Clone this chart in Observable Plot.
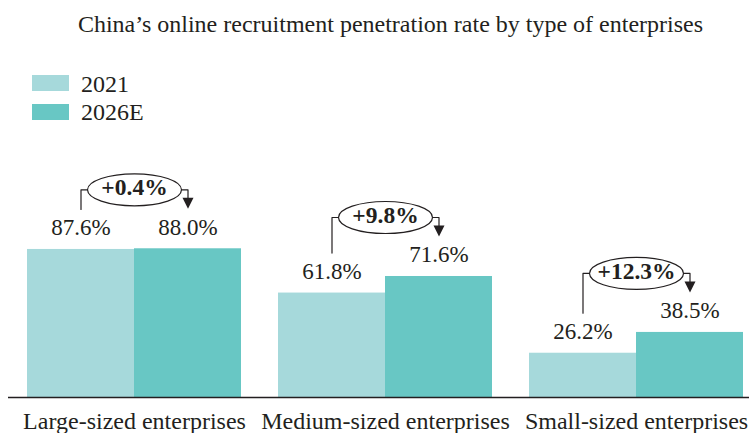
<!DOCTYPE html>
<html><head><meta charset="utf-8">
<script src="https://cdn.jsdelivr.net/npm/d3@7"></script>
<script src="https://cdn.jsdelivr.net/npm/@observablehq/plot@0.6"></script>
<style>
body{margin:0;background:#fff;font-family:"Liberation Serif","Times New Roman",serif;color:#231f20;}
#header{position:relative;height:135px;width:749px;}
#title{position:absolute;left:32px;right:0;top:12px;text-align:center;font-size:24px;line-height:24px;white-space:nowrap;}
.sw{position:absolute;left:32px;width:37px;height:16px;}
.lab{position:absolute;left:81px;font-size:24px;line-height:24px;white-space:nowrap;}
#chart svg{display:block;}
#chart svg, #chart svg text{font-family:"Liberation Serif","Times New Roman",serif !important;}
</style></head><body>
<div id="header">
  <div id="title">China’s online recruitment penetration rate by type of enterprises</div>
</div>
<div id="chart"></div>
<script>
const categories = ["Large-sized enterprises", "Medium-sized enterprises", "Small-sized enterprises"];
const series = ["2021", "2026E"];
const values2021 = [87.6, 61.8, 26.2];
const values2026E = [88.0, 71.6, 38.5];
const changes = ["+0.4%", "+9.8%", "+12.3%"];
const colors = ["#a6d9db", "#68c7c4"];

// legend (HTML, above the SVG)
const header = document.getElementById("header");
series.forEach((s, j) => {
  const sw = document.createElement("div");
  sw.className = "sw"; sw.style.top = (75 + 29 * j) + "px"; sw.style.background = colors[j];
  header.appendChild(sw);
  const lb = document.createElement("div");
  lb.className = "lab"; lb.style.top = (72 + 28 * j) + "px"; lb.textContent = s;
  header.appendChild(lb);
});

const rows = categories.map((c, i) => ({cat: c, i, v21: values2021[i], v26: values2026E[i], diff: changes[i]}));
const bars = [];
rows.forEach(r => {
  bars.push({i: r.i, s: 0, series: series[0], value: r.v21});
  bars.push({i: r.i, s: 1, series: series[1], value: r.v26});
});

const H = 107 / 251;     // half group width in x units
const K = 1.69;          // px per y unit
const XU = 251;          // px per x unit
const RX = 47, RY = 16;
const ell = r => Math.max(r.v21, r.v26) + 59 / K;

const paths = [];
rows.forEach(r => {
  const E = ell(r);
  paths.push({k: r.i + "L", x: r.i - H / 2, y: r.v21 + 40 / K});
  paths.push({k: r.i + "L", x: r.i - H / 2, y: E});
  paths.push({k: r.i + "L", x: r.i - RX / XU, y: E});
  paths.push({k: r.i + "R", x: r.i + RX / XU, y: E});
  paths.push({k: r.i + "R", x: r.i + H / 2, y: E});
  paths.push({k: r.i + "R", x: r.i + H / 2, y: r.v26 + 50 / K});
});

const ellipseSymbol = {draw(ctx) {
  const a = RX, b = RY, k = 0.5523;
  ctx.moveTo(a, 0);
  ctx.bezierCurveTo(a, b * k, a * k, b, 0, b);
  ctx.bezierCurveTo(-a * k, b, -a, b * k, -a, 0);
  ctx.bezierCurveTo(-a, -b * k, -a * k, -b, 0, -b);
  ctx.bezierCurveTo(a * k, -b, a, -b * k, a, 0);
  ctx.closePath();
}};
const arrowSymbol = {draw(ctx) {
  ctx.moveTo(0, 0); ctx.lineTo(-5.5, -11); ctx.lineTo(5.5, -11); ctx.closePath();
}};

const ink = "#231f20";
const serif = "'Liberation Serif', 'Times New Roman', serif";
const plot = Plot.plot({
  width: 749, height: 298,
  marginTop: 0, marginBottom: 0, marginLeft: 0, marginRight: 0,
  style: {fontFamily: serif, background: "#fff", color: ink},
  x: {domain: [0, 2], range: [134, 636], axis: null},
  y: {domain: [0, 100], range: [262, 93], axis: null},
  color: {domain: series, range: colors},
  marks: [
    Plot.rectY(bars, {x1: d => d.i - (d.s === 0 ? H : 0), x2: d => d.i + (d.s === 0 ? 0 : H), y: "value", fill: "series"}),
    Plot.ruleY([0], {insetLeft: 8, stroke: ink, strokeWidth: 1.3}),
    Plot.text(bars, {x: d => d.i + (d.s === 0 ? -H / 2 : H / 2), y: "value", text: d => d.value.toFixed(1) + "%", dy: -21.5, fontSize: 23, fontFamily: serif, fill: ink}),
    Plot.text(rows, {x: "i", y: () => 0, text: "cat", dy: 24.3, fontSize: 24, fontFamily: serif, fill: ink}),
    Plot.line(paths, {x: "x", y: "y", z: "k", stroke: ink, strokeWidth: 1.2, curve: "linear"}),
    Plot.dot(rows, {x: d => d.i + H / 2, y: d => d.v26 + 40 / K, symbol: arrowSymbol, fill: ink, stroke: "none"}),
    Plot.dot(rows, {x: "i", y: ell, symbol: ellipseSymbol, fill: "#fff", stroke: ink, strokeWidth: 1.2}),
    Plot.text(rows, {x: "i", y: ell, text: "diff", dy: -2, fontSize: 23.5, fontWeight: "bold", fontFamily: serif, fill: ink})
  ]
});
document.getElementById("chart").appendChild(plot);
</script>
</body></html>
